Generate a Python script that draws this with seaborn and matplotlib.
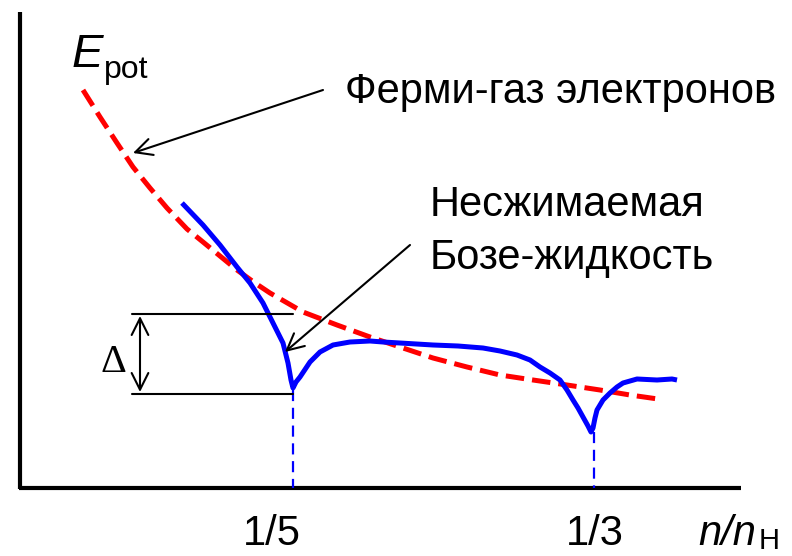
import matplotlib
matplotlib.use("Agg")
import matplotlib.pyplot as plt
import seaborn as sns
import pandas as pd

sns.set_style("white")
plt.rcParams['font.family'] = ['Liberation Sans', 'DejaVu Sans']
plt.rcParams['text.color'] = 'black'

# Schematic curves (figure pixel coordinates, y downwards)
fermi_x = [83, 100, 117, 133, 150, 167, 187, 203, 220, 237, 255, 270, 303, 337,
           370, 400, 433, 467, 500, 533, 567, 600, 630, 658]
fermi_y = [90, 117, 143, 167, 188, 208, 229, 242, 256, 270, 283, 293, 312, 325,
           337, 347, 358, 367, 375, 380, 385, 390, 395, 399]

bose_x = [182, 203, 220, 237, 250, 263, 273, 283, 288, 291, 293, 296, 300, 310,
          320, 333, 350, 370, 383, 400, 433, 458, 483, 500, 517, 530, 540, 550,
          560, 567, 573, 578, 583, 588, 591, 593, 595, 597, 603, 610, 617, 623,
          637, 657, 672, 677]
bose_y = [203, 225, 245, 267, 283, 303, 323, 343, 363, 380, 388, 382, 377, 362,
          352, 345, 342, 341, 342, 343, 345, 346, 348, 351, 355, 360, 367, 373,
          380, 390, 400, 408, 417, 426, 432, 428, 418, 410, 400, 393, 387, 383,
          379, 380, 379, 380]

dip_x = [293, 594]
dip_y = [390, 432]
tick_labels = ["1/5", "1/3"]
tick_label_x = [272, 595]

fermi = pd.DataFrame({"x": fermi_x, "y": fermi_y})
bose = pd.DataFrame({"x": bose_x, "y": bose_y})

fig = plt.figure(figsize=(7.92, 5.56), dpi=100)
ax = fig.add_axes([0, 0, 1, 1])
ax.set_xlim(0, 792)
ax.set_ylim(556, 0)
ax.axis('off')

# axes
ax.plot([20, 20], [12, 489], color='black', lw=3, solid_capstyle='butt')
ax.plot([19, 741], [488, 488], color='black', lw=3, solid_capstyle='butt')

sns.lineplot(data=fermi, x="x", y="y", sort=False, ax=ax, color='#ff0000',
             lw=3.6, linestyle='--', dashes=(3, 1.6))
sns.lineplot(data=bose, x="x", y="y", sort=False, ax=ax, color='#0000ff', lw=3.6,
             solid_joinstyle='round', solid_capstyle='butt')

for xd, yd in zip(dip_x, dip_y):
    ax.plot([xd, xd], [yd, 488], color='#0000ff', lw=1.6, linestyle=(0, (5, 3)))

# gap marker
ax.plot([132, 293], [314, 314], color='black', lw=1.5)
ax.plot([132, 293], [394, 394], color='black', lw=1.5)
ax.annotate('', xy=(140, 316), xytext=(140, 392),
            arrowprops=dict(arrowstyle='<->', color='black', lw=1.5,
                            mutation_scale=30, shrinkA=0, shrinkB=0))
ax.text(113, 362, 'Δ', fontsize=29, family=['Liberation Serif', 'DejaVu Serif'],
        ha='center', va='center')

# pointers
ax.annotate('', xy=(133, 153), xytext=(323, 90),
            arrowprops=dict(arrowstyle='->', color='black', lw=1.5,
                            mutation_scale=30, shrinkA=0, shrinkB=0))
ax.annotate('', xy=(285, 352), xytext=(410, 245),
            arrowprops=dict(arrowstyle='->', color='black', lw=1.5,
                            mutation_scale=30, shrinkA=0, shrinkB=0))

ax.text(345, 92, 'Ферми-газ электронов', fontsize=30, ha='left', va='center')
ax.text(430, 205, 'Несжимаемая', fontsize=30, ha='left', va='center')
ax.text(430, 258, 'Бозе-жидкость', fontsize=30, ha='left', va='center')

ax.text(72, 67, 'E', fontsize=34, style='italic', ha='left', va='baseline')
ax.text(104, 78, 'pot', fontsize=23, ha='left', va='baseline')

for lab, xl in zip(tick_labels, tick_label_x):
    ax.text(xl, 545, lab, fontsize=30, ha='center', va='baseline')
ax.text(698, 545, 'n/n', fontsize=30, style='italic', ha='left', va='baseline')
ax.text(759, 549, 'H', fontsize=21, ha='left', va='baseline')

fig.savefig('out.png', dpi=100)
